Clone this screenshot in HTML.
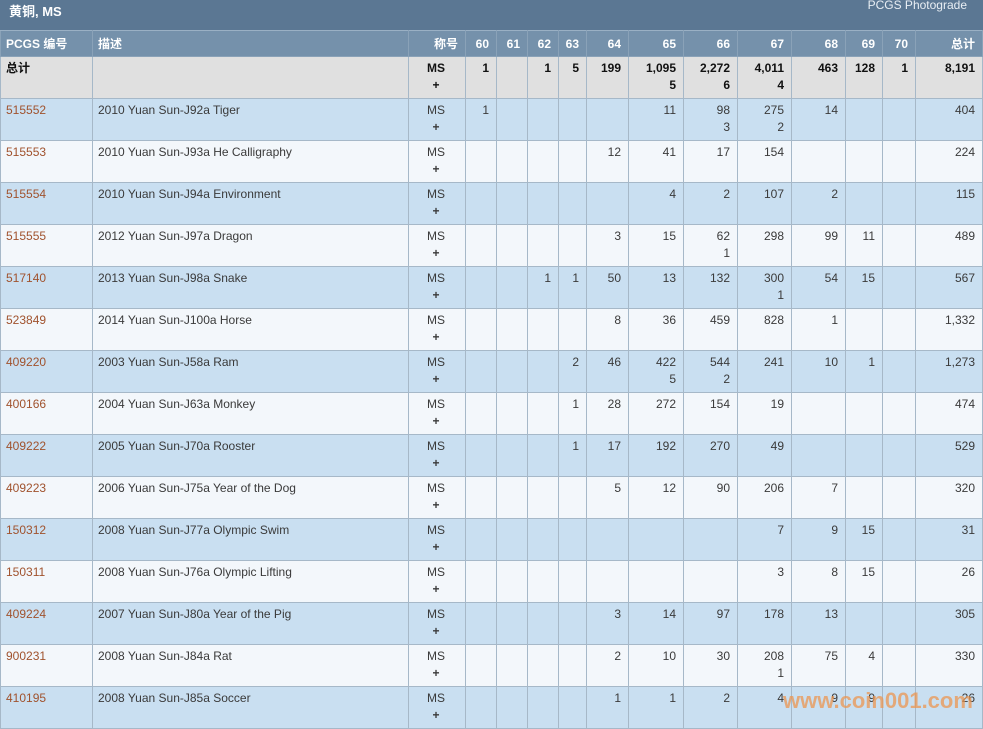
<!DOCTYPE html>
<html><head><meta charset="utf-8"><style>
*{margin:0;padding:0;box-sizing:border-box}
body{width:983px;height:729px;overflow:hidden;background:#fff;font-family:"Liberation Sans","Noto Sans CJK SC",sans-serif;font-size:12px;color:#3a3a3a;position:relative}
.title{position:absolute;left:0;top:0;width:983px;height:30px;background:#5b7793;color:#fff}
.title .l{position:absolute;left:9px;top:1px;font-weight:bold;font-size:13px}
.title .r{position:absolute;right:16px;top:-2px;font-size:12px;color:#e8eef4}
table{position:absolute;left:0;top:30px;width:982px;border-collapse:collapse;table-layout:fixed}
td,th{border:1px solid #a6b8c8;vertical-align:top;line-height:17px;padding:3px 7px 0 5px;text-align:right}
th{background:#7591ab;color:#fff;font-weight:bold;height:26px;padding-top:5px;border-color:#8aa2b8;border-top:1px solid #9ab0c4}
tr{height:42px}
tr.h{height:26px}
tr.t td{background:#e0e0e0;font-weight:bold;color:#111}
tr.o td{background:#c9dff1}
tr.e td{background:#f3f7fb}
td.id{text-align:left;color:#a0522d}
td.d{text-align:left}
td.c{text-align:center}
th.l{text-align:left}
.wm{position:absolute;left:783px;top:688px;font-size:22px;font-weight:bold;color:rgba(235,150,80,0.75)}
</style></head><body>
<div class="title"><span class="l">黄铜, MS</span><span class="r">PCGS Photograde</span></div>
<table>
<colgroup><col style="width:92px"><col style="width:316px"><col style="width:57px"><col style="width:31px"><col style="width:31px"><col style="width:31px"><col style="width:28px"><col style="width:42px"><col style="width:55px"><col style="width:54px"><col style="width:54px"><col style="width:54px"><col style="width:37px"><col style="width:33px"><col style="width:67px"></colgroup>
<tr class="h"><th class="l">PCGS 编号</th><th class="l">描述</th><th>称号</th><th>60</th><th>61</th><th>62</th><th>63</th><th>64</th><th>65</th><th>66</th><th>67</th><th>68</th><th>69</th><th>70</th><th>总计</th></tr>
<tr class="t"><td class="d" style="color:#111">总计</td><td></td><td class="c">MS<br>+</td><td>1</td><td></td><td>1</td><td>5</td><td>199</td><td>1,095<br>5</td><td>2,272<br>6</td><td>4,011<br>4</td><td>463</td><td>128</td><td>1</td><td>8,191</td></tr>
<tr class="o"><td class="id">515552</td><td class="d">2010 Yuan Sun-J92a Tiger</td><td class="c">MS<br><b>+</b></td><td>1</td><td></td><td></td><td></td><td></td><td>11</td><td>98<br>3</td><td>275<br>2</td><td>14</td><td></td><td></td><td>404</td></tr>
<tr class="e"><td class="id">515553</td><td class="d">2010 Yuan Sun-J93a He Calligraphy</td><td class="c">MS<br><b>+</b></td><td></td><td></td><td></td><td></td><td>12</td><td>41</td><td>17</td><td>154</td><td></td><td></td><td></td><td>224</td></tr>
<tr class="o"><td class="id">515554</td><td class="d">2010 Yuan Sun-J94a Environment</td><td class="c">MS<br><b>+</b></td><td></td><td></td><td></td><td></td><td></td><td>4</td><td>2</td><td>107</td><td>2</td><td></td><td></td><td>115</td></tr>
<tr class="e"><td class="id">515555</td><td class="d">2012 Yuan Sun-J97a Dragon</td><td class="c">MS<br><b>+</b></td><td></td><td></td><td></td><td></td><td>3</td><td>15</td><td>62<br>1</td><td>298</td><td>99</td><td>11</td><td></td><td>489</td></tr>
<tr class="o"><td class="id">517140</td><td class="d">2013 Yuan Sun-J98a Snake</td><td class="c">MS<br><b>+</b></td><td></td><td></td><td>1</td><td>1</td><td>50</td><td>13</td><td>132</td><td>300<br>1</td><td>54</td><td>15</td><td></td><td>567</td></tr>
<tr class="e"><td class="id">523849</td><td class="d">2014 Yuan Sun-J100a Horse</td><td class="c">MS<br><b>+</b></td><td></td><td></td><td></td><td></td><td>8</td><td>36</td><td>459</td><td>828</td><td>1</td><td></td><td></td><td>1,332</td></tr>
<tr class="o"><td class="id">409220</td><td class="d">2003 Yuan Sun-J58a Ram</td><td class="c">MS<br><b>+</b></td><td></td><td></td><td></td><td>2</td><td>46</td><td>422<br>5</td><td>544<br>2</td><td>241</td><td>10</td><td>1</td><td></td><td>1,273</td></tr>
<tr class="e"><td class="id">400166</td><td class="d">2004 Yuan Sun-J63a Monkey</td><td class="c">MS<br><b>+</b></td><td></td><td></td><td></td><td>1</td><td>28</td><td>272</td><td>154</td><td>19</td><td></td><td></td><td></td><td>474</td></tr>
<tr class="o"><td class="id">409222</td><td class="d">2005 Yuan Sun-J70a Rooster</td><td class="c">MS<br><b>+</b></td><td></td><td></td><td></td><td>1</td><td>17</td><td>192</td><td>270</td><td>49</td><td></td><td></td><td></td><td>529</td></tr>
<tr class="e"><td class="id">409223</td><td class="d">2006 Yuan Sun-J75a Year of the Dog</td><td class="c">MS<br><b>+</b></td><td></td><td></td><td></td><td></td><td>5</td><td>12</td><td>90</td><td>206</td><td>7</td><td></td><td></td><td>320</td></tr>
<tr class="o"><td class="id">150312</td><td class="d">2008 Yuan Sun-J77a Olympic Swim</td><td class="c">MS<br><b>+</b></td><td></td><td></td><td></td><td></td><td></td><td></td><td></td><td>7</td><td>9</td><td>15</td><td></td><td>31</td></tr>
<tr class="e"><td class="id">150311</td><td class="d">2008 Yuan Sun-J76a Olympic Lifting</td><td class="c">MS<br><b>+</b></td><td></td><td></td><td></td><td></td><td></td><td></td><td></td><td>3</td><td>8</td><td>15</td><td></td><td>26</td></tr>
<tr class="o"><td class="id">409224</td><td class="d">2007 Yuan Sun-J80a Year of the Pig</td><td class="c">MS<br><b>+</b></td><td></td><td></td><td></td><td></td><td>3</td><td>14</td><td>97</td><td>178</td><td>13</td><td></td><td></td><td>305</td></tr>
<tr class="e"><td class="id">900231</td><td class="d">2008 Yuan Sun-J84a Rat</td><td class="c">MS<br><b>+</b></td><td></td><td></td><td></td><td></td><td>2</td><td>10</td><td>30</td><td>208<br>1</td><td>75</td><td>4</td><td></td><td>330</td></tr>
<tr class="o"><td class="id">410195</td><td class="d">2008 Yuan Sun-J85a Soccer</td><td class="c">MS<br><b>+</b></td><td></td><td></td><td></td><td></td><td>1</td><td>1</td><td>2</td><td>4</td><td>9</td><td>9</td><td></td><td>26</td></tr>
</table>
<div class="wm">www.coin001.com</div>
</body></html>
